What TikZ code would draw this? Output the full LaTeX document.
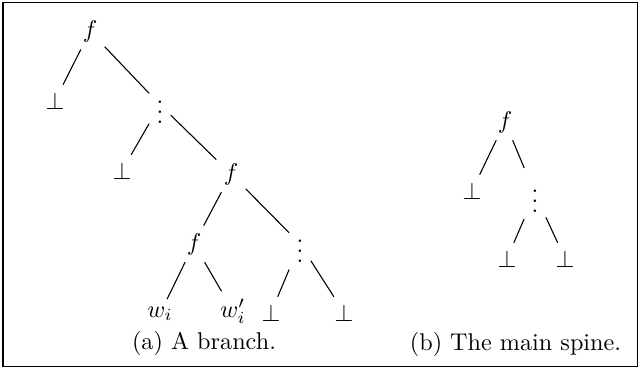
\documentclass[tikz,border=0pt]{standalone}
\begin{document}
\begin{tikzpicture}[x=0.4132pt,y=-0.4132pt,
  tn/.style={anchor=base,inner sep=2.9pt},
  edge/.style={line width=0.45pt}]
\useasboundingbox (0,0) rectangle (639,370);
\draw[line width=0.8pt] (2.7,2.5) rectangle (637.5,366.5);
% tree (a)
\node[tn] (a1) at (90,37.3) {$f$};
\node[tn] (a2) at (55,109) {$\bot$};
\node[tn] (a3) at (160,123) {$\vdots$};
\node[tn] (a4) at (122,179) {$\bot$};
\node[tn] (a5) at (231,180) {$f$};
\node[tn] (a6) at (194,250) {$f$};
\node[tn] (a7) at (300,262) {$\vdots$};
\node[tn] (a8) at (160,317) {$w_i$};
\node[tn] (a9) at (233,317) {$w'_i$};
\node[tn] (a10) at (271,321) {$\bot$};
\node[tn] (a11) at (344,321) {$\bot$};
\draw[edge] (a1) -- (a2);
\draw[edge] (a1) -- (a3);
\draw[edge] (a3) -- (a4);
\draw[edge] (a3) -- (a5);
\draw[edge] (a5) -- (a6);
\draw[edge] (a5) -- (a7);
\draw[edge] (a6) -- (a8);
\draw[edge] (a6) -- (a9);
\draw[edge] (a7) -- (a10);
\draw[edge] (a7) -- (a11);
\node[anchor=base] (capa) at (204,349) {(a) A branch.};
% tree (b)
\node[tn] (b1) at (505,128) {$f$};
\node[tn] (b2) at (472,199) {$\bot$};
\node[tn] (b3) at (535,212) {$\vdots$};
\node[tn] (b4) at (507,267) {$\bot$};
\node[tn] (b5) at (565,267) {$\bot$};
\draw[edge] (b1) -- (b2);
\draw[edge] (b1) -- (b3);
\draw[edge] (b3) -- (b4);
\draw[edge] (b3) -- (b5);
\node[anchor=base] (capb) at (515.5,350) {(b) The main spine.};
\end{tikzpicture}
\end{document}
